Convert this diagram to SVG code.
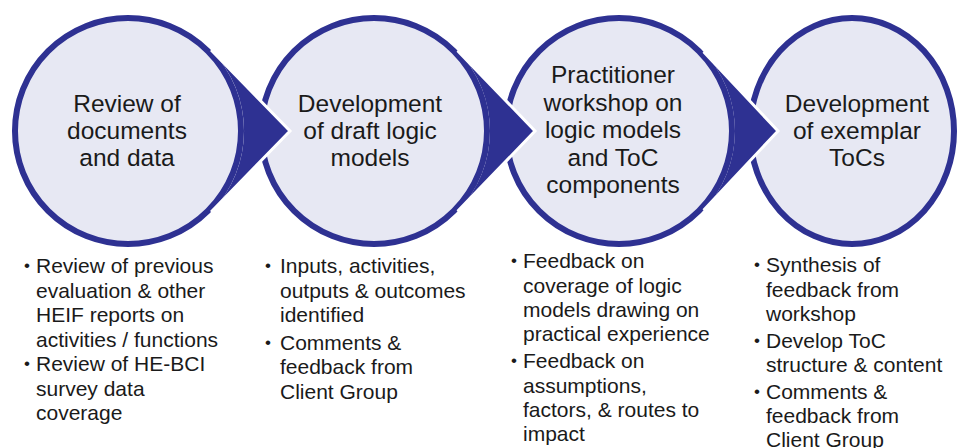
<svg xmlns="http://www.w3.org/2000/svg" width="957" height="448" viewBox="0 0 957 448">
<style>
.ring{fill:#E7E8F3;stroke:#2E3192;stroke-width:6}
.wedge{fill:#2E3192;stroke:none}
.edge{fill:none;stroke:#FFFFFF;stroke-width:3;stroke-linejoin:miter}
.title{font-family:"Liberation Sans",Arial,sans-serif;font-size:24.5px;fill:#1A1A1A;text-anchor:middle}
.body{font-family:"Liberation Sans",Arial,sans-serif;font-size:21px;fill:#1A1A1A}
.dot{font-family:"Liberation Sans",Arial,sans-serif;font-size:17px;fill:#1A1A1A}
</style>
<rect width="957" height="448" fill="#FFFFFF"/>
<g id="step4">
<ellipse class="ring" cx="852" cy="131" rx="102" ry="113"/>
<text class="title"><tspan x="857" y="112">Development</tspan><tspan x="857" y="138.5">of exemplar</tspan><tspan x="857" y="165.5">ToCs</tspan></text>
<text class="dot"><tspan x="754" y="270">•</tspan><tspan x="754" y="345.5">•</tspan><tspan x="754" y="396.5">•</tspan></text>
<text class="body"><tspan x="766" y="272">Synthesis of</tspan><tspan x="766" y="296.5">feedback from</tspan><tspan x="766" y="320.5">workshop</tspan><tspan x="766" y="347.5">Develop ToC</tspan><tspan x="766" y="372">structure &amp; content</tspan><tspan x="766" y="398.5">Comments &amp;</tspan><tspan x="766" y="423">feedback from</tspan><tspan x="766" y="447">Client Group</tspan></text>
</g>
<g id="step3">
<circle class="ring" cx="619" cy="131" r="113"/>
<text class="title"><tspan x="613" y="83">Practitioner</tspan><tspan x="613" y="110.5">workshop on</tspan><tspan x="613" y="138">logic models</tspan><tspan x="613" y="165.5">and ToC</tspan><tspan x="613" y="193">components</tspan></text>
<text class="dot"><tspan x="511" y="266">•</tspan><tspan x="511" y="366">•</tspan></text>
<text class="body"><tspan x="523" y="268">Feedback on</tspan><tspan x="523" y="292.5">coverage of logic</tspan><tspan x="523" y="317">models drawing on</tspan><tspan x="523" y="341">practical experience</tspan><tspan x="523" y="368">Feedback on</tspan><tspan x="523" y="392.5">assumptions,</tspan><tspan x="523" y="417">factors, &amp; routes to</tspan><tspan x="523" y="441">impact</tspan></text>
</g>
<g id="step2">
<circle class="ring" cx="374" cy="131" r="113"/>
<text class="title"><tspan x="370" y="112">Development</tspan><tspan x="370" y="138.5">of draft logic</tspan><tspan x="370" y="165.5">models</tspan></text>
<text class="dot"><tspan x="265" y="271">•</tspan><tspan x="265" y="347.5">•</tspan></text>
<text class="body"><tspan x="280" y="273">Inputs, activities,</tspan><tspan x="280" y="297.5">outputs &amp; outcomes</tspan><tspan x="280" y="322">identified</tspan><tspan x="280" y="349.5">Comments &amp;</tspan><tspan x="280" y="374">feedback from</tspan><tspan x="280" y="398.5">Client Group</tspan></text>
</g>
<g id="step1">
<circle class="ring" cx="128" cy="131" r="113"/>
<text class="title"><tspan x="127" y="112">Review of</tspan><tspan x="127" y="138.5">documents</tspan><tspan x="127" y="165.5">and data</tspan></text>
<text class="dot"><tspan x="24" y="271">•</tspan><tspan x="24" y="369">•</tspan></text>
<text class="body"><tspan x="36" y="273">Review of previous</tspan><tspan x="36" y="297.5">evaluation &amp; other</tspan><tspan x="36" y="322">HEIF reports on</tspan><tspan x="36" y="346.5">activities / functions</tspan><tspan x="36" y="371">Review of HE-BCI</tspan><tspan x="36" y="395.5">survey data</tspan><tspan x="36" y="420">coverage</tspan></text>
</g>
<g id="connectors">
<path class="wedge" d="M211.1,50 L290,131 L211.1,212 A116,116 0 0 0 211.1,50 Z"/>
<path class="edge" d="M211.1,50 L290,131 L211.1,212"/>
<path class="wedge" d="M457.6,50.6 L535,131 L457.6,211.4 A116,116 0 0 0 457.6,50.6 Z"/>
<path class="edge" d="M457.6,50.6 L535,131 L457.6,211.4"/>
<path class="wedge" d="M703.6,51.7 L778,131 L703.6,210.3 A116,116 0 0 0 703.6,51.7 Z"/>
<path class="edge" d="M703.6,51.7 L778,131 L703.6,210.3"/>
</g>
</svg>
